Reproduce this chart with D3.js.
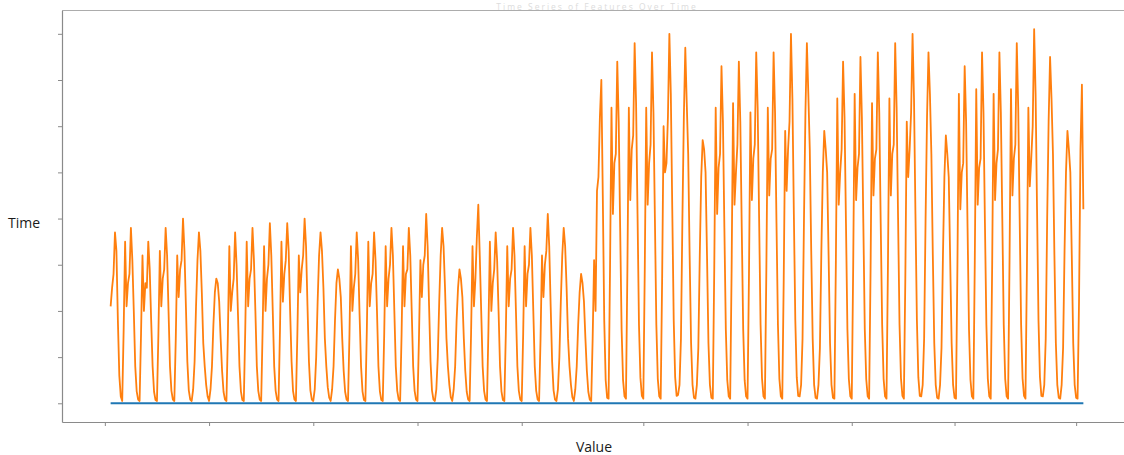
<!DOCTYPE html>
<html>
<head>
<meta charset="utf-8">
<script src="https://cdn.jsdelivr.net/npm/d3@7"></script>
<style>
  body { margin: 0; background: #fff; }
  svg { display: block; }
</style>
</head>
<body>
<div id="chart"></div>
<script>
// 2-hourly readings, hour 0 = first point, each day row starts at the nightly minimum
const stepHours = 2;
const headValues = [21, 25, 28, 37, 33, 18, 6, 1.5];
const dayValues = [
  [0.5, 16, 35, 21, 26, 28, 38, 31, 20, 8, 2.6, 0.8],
  [0.5, 15, 32, 20, 26, 25, 35, 29, 18, 8, 2.5, 0.7],
  [0.5, 15, 33, 21, 27, 29, 38, 32, 20, 8, 2.7, 0.8],
  [0.5, 14, 32, 23, 29, 31, 40, 33, 21, 9, 2.8, 0.8],
  [0.5, 3, 9, 21, 31, 37, 33, 24, 13, 8, 4, 1.5],
  [0.5, 3, 8, 17, 24, 27, 26, 22, 14, 7, 2.5, 0.8],
  [0.5, 15, 34, 20, 24, 27, 37, 30, 19, 8, 2.6, 0.7],
  [0.5, 16, 35, 21, 27, 29, 38, 31, 20, 8, 2.7, 0.8],
  [0.5, 16, 34, 20, 27, 30, 39, 32, 20, 8, 2.7, 0.8],
  [0.5, 16, 35, 22, 28, 31, 39, 33, 20, 9, 2.7, 0.8],
  [0.5, 15, 32, 24, 29, 32, 40, 34, 21, 9, 2.8, 0.8],
  [0.5, 3, 10, 22, 32, 37, 33, 25, 14, 8, 3.5, 1.2],
  [0.5, 3, 8, 18, 26, 29, 27, 23, 14, 7, 2.5, 0.8],
  [0.5, 15, 34, 20, 25, 28, 37, 31, 19, 8, 2.6, 0.7],
  [0.5, 16, 35, 21, 26, 28, 37, 31, 20, 8, 2.6, 0.7],
  [0.5, 15, 34, 21, 27, 30, 38, 32, 20, 8, 2.7, 0.8],
  [0.5, 15, 34, 21, 28, 29, 38, 32, 20, 8, 2.7, 0.8],
  [0.5, 14, 31, 23, 30, 32, 41, 34, 21, 9, 2.8, 0.8],
  [0.5, 3, 10, 22, 32, 38, 34, 25, 14, 8, 4, 1.3],
  [0.5, 3, 8, 18, 25, 29, 27, 23, 14, 7, 2.5, 0.8],
  [0.5, 15, 34, 21, 27, 36, 43, 32, 20, 8, 2.7, 0.8],
  [0.5, 16, 35, 20, 26, 29, 37, 31, 20, 8, 2.6, 0.7],
  [0.5, 15, 34, 21, 27, 29, 38, 32, 20, 8, 2.7, 0.8],
  [0.5, 15, 34, 21, 28, 30, 38, 32, 20, 8, 2.7, 0.8],
  [0.5, 14, 32, 23, 30, 33, 41, 34, 21, 9, 2.8, 0.8],
  [0.5, 3, 10, 22, 32, 38, 34, 25, 14, 8, 4, 1.3],
  [0.5, 3, 8, 17, 24, 28, 26, 22, 14, 7, 2.5, 0.8],
  [0.5, 14, 31, 20, 46, 49, 62, 70, 45, 18, 5, 1.2],
  [1, 29, 64, 41, 52, 54, 74, 61, 38, 16, 5, 1.5],
  [1, 29, 64, 44, 55, 58, 78, 65, 41, 17, 5.5, 1.6],
  [1, 29, 64, 43, 52, 56, 76, 63, 40, 17, 5.3, 1.5],
  [1, 27, 60, 50, 52, 62, 80, 67, 42, 18, 5.6, 1.6],
  [1.8, 4, 14, 40, 62, 77, 65, 54, 32, 13, 4, 1.2],
  [1, 4, 12, 32, 49, 57, 55, 50, 32, 13, 4, 1.2],
  [1, 29, 64, 41, 51, 54, 73, 61, 38, 16, 5, 1.5],
  [1, 29, 65, 43, 50, 56, 74, 61, 38, 16, 5, 1.5],
  [1, 28, 63, 44, 53, 56, 76, 64, 40, 17, 5.4, 1.5],
  [1, 29, 64, 45, 53, 55, 76, 63, 39, 17, 5.3, 1.5],
  [1, 27, 59, 46, 55, 61, 80, 66, 41, 18, 5.6, 1.6],
  [1.5, 4, 14, 40, 63, 78, 67, 55, 33, 14, 4, 1.2],
  [1, 4, 12, 33, 50, 59, 55, 50, 32, 13, 4, 1.2],
  [1, 30, 66, 43, 50, 55, 74, 62, 39, 16, 5.2, 1.5],
  [1, 30, 67, 44, 51, 54, 75, 62, 39, 16, 5.2, 1.5],
  [1, 29, 65, 45, 53, 55, 76, 63, 39, 17, 5.3, 1.5],
  [1, 30, 66, 45, 54, 56, 78, 64, 40, 17, 5.4, 1.6],
  [1, 27, 61, 49, 55, 63, 80, 66, 41, 18, 5.6, 1.6],
  [1.5, 4, 14, 40, 62, 76, 67, 54, 32, 13, 4, 1.2],
  [1, 4, 12, 32, 49, 58, 54, 49, 31, 13, 4, 1.2],
  [1, 30, 67, 42, 50, 52, 73, 61, 38, 16, 5.1, 1.5],
  [1, 31, 68, 43, 51, 53, 76, 63, 39, 17, 5.3, 1.5],
  [1, 30, 67, 44, 52, 55, 76, 63, 40, 17, 5.3, 1.5],
  [1, 31, 68, 45, 53, 56, 78, 64, 40, 17, 5.4, 1.6],
  [1, 29, 64, 47, 53, 60, 81, 67, 42, 18, 5.7, 1.6],
  [1.5, 4, 14, 40, 61, 75, 66, 54, 32, 13, 4, 1.2],
  [1, 4, 12, 33, 50, 59, 55, 50, 32, 13, 4, 1.2]
];
const tailValues = [1, 22, 55, 69, 42];

// second series sits flat on zero for the whole span
const baseHours = [0, 1344];
const baseValues = [0, 0];

// tick positions (hours), no labels shown in the original
const xTickHours = [-8, 136, 280, 424, 568, 736, 880, 1024, 1166, 1334];
const yTickValues = [0, 10, 20, 30, 40, 50, 60, 70, 80];

const width = 1124;
const height = 455;
const margin = {top: 10.5, left: 62, bottom: 33};
const plotW = 1070;
const plotH = height - margin.top - margin.bottom;

const orange = headValues.concat(dayValues.flat(), tailValues)
    .map((v, i) => ({t: i * stepHours, v: v}));
const blue = baseHours.map((t, i) => ({t: t, v: baseValues[i]}));

const svg = d3.select("#chart")
    .append("svg")
    .attr("width", width)
    .attr("height", height);

// matplotlib-like 5% margins around the data
const tMin = d3.min(orange, d => d.t), tMax = d3.max(orange, d => d.t);
const vMin = Math.min(d3.min(orange, d => d.v), d3.min(blue, d => d.v));
const vMax = d3.max(orange, d => d.v);
const padT = (tMax - tMin) * 0.05, padV = (vMax - vMin) * 0.05;

const x = d3.scaleLinear()
    .domain([tMin - padT, tMax + padT])
    .range([margin.left, margin.left + plotW]);

const y = d3.scaleLinear()
    .domain([vMin - padV, vMax + padV])
    .range([margin.top + plotH, margin.top]);

// faint title squeezed against the top edge
svg.append("text")
    .attr("x", 597)
    .attr("y", 9.5)
    .attr("text-anchor", "middle")
    .style("font-family", "'Open Sans', sans-serif")
    .style("font-size", "8.5px")
    .style("letter-spacing", "2px")
    .style("fill", "#dcdcdc")
    .text("Time Series of Features Over Time");

// top and right spines
svg.append("line")
    .attr("x1", margin.left).attr("x2", margin.left + plotW)
    .attr("y1", margin.top).attr("y2", margin.top)
    .attr("stroke", "#acacac").attr("stroke-width", 1);
svg.append("line")
    .attr("x1", margin.left + plotW).attr("x2", margin.left + plotW)
    .attr("y1", margin.top).attr("y2", margin.top + plotH)
    .attr("stroke", "#acacac").attr("stroke-width", 1);

const xAxis = svg.append("g")
    .attr("transform", `translate(0,${margin.top + plotH})`)
    .call(d3.axisBottom(x).tickValues(xTickHours).tickFormat("").tickSize(4).tickSizeOuter(0));

const yAxis = svg.append("g")
    .attr("transform", `translate(${margin.left},0)`)
    .call(d3.axisLeft(y).tickValues(yTickValues).tickFormat("").tickSize(4).tickSizeOuter(0));

[xAxis, yAxis].forEach(a => {
    a.select(".domain").attr("stroke", "#8a8a8a").attr("stroke-width", 1.2);
    a.selectAll(".tick line").attr("stroke", "#8a8a8a").attr("stroke-width", 1);
});

const line = d3.line()
    .x(d => x(d.t))
    .y(d => y(d.v));

svg.append("path")
    .datum(blue)
    .attr("fill", "none")
    .attr("stroke", "#1f77b4")
    .attr("stroke-width", 2)
    .attr("d", line);

svg.append("path")
    .datum(orange)
    .attr("fill", "none")
    .attr("stroke", "#ff7f0e")
    .attr("stroke-width", 1.8)
    .attr("stroke-linejoin", "round")
    .attr("d", line);

// axis titles
svg.append("text")
    .attr("x", 24)
    .attr("y", 228)
    .attr("text-anchor", "middle")
    .style("font-family", "'Open Sans', sans-serif")
    .style("font-size", "14px")
    .style("fill", "#1a1a1a")
    .text("Time");

svg.append("text")
    .attr("x", 594)
    .attr("y", 452)
    .attr("text-anchor", "middle")
    .style("font-family", "'Open Sans', sans-serif")
    .style("font-size", "14px")
    .style("fill", "#1a1a1a")
    .text("Value");
</script>
</body>
</html>
